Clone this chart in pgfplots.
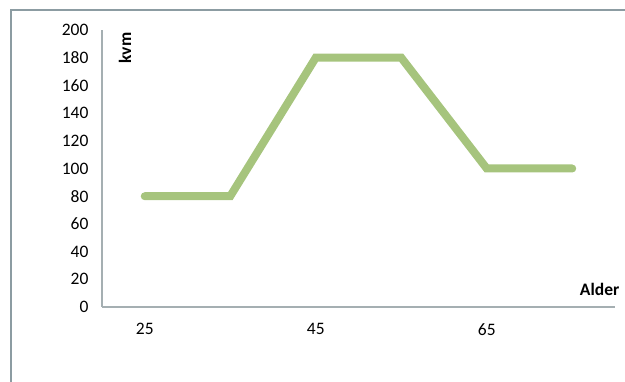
\documentclass[border=0pt]{standalone}
\usepackage{pgfplots}
\pgfplotsset{compat=1.18}
\usepackage{fontspec}
\setmainfont{Carlito}
\definecolor{lgreen}{RGB}{166,196,125}
\definecolor{axgray}{RGB}{165,175,178}
\definecolor{framec}{RGB}{140,156,162}
\begin{document}
\begin{tikzpicture}[x=1pt,y=1pt]
\path[use as bounding box] (-102,-75) rectangle (523,307);
\draw[framec,line width=1.6pt] (-91,-80) -- (-91,297) -- (530,297);
\begin{axis}[
  scale only axis, width=513pt, height=277pt,
  at={(0,0)}, anchor=south west,
  xmin=-0.5, xmax=5.5, ymin=0, ymax=200,
  axis lines*=left,
  axis line style={axgray,line width=1.2pt,-},
  xtick={0,2,4}, xticklabels={25,45,65},
  ytick={0,20,...,200},
  major tick length=0pt,
  tick label style={font=\fontsize{17.5}{19}\selectfont},
  /pgf/number format/assume math mode=true,
  yticklabel style={xshift=-10pt},
  xticklabel style={yshift=-13pt},
  clip=false,
]
\addplot[lgreen,line width=8pt,line join=miter,line cap=round] coordinates {(0,80) (1,80) (2,180) (3,180) (4,100) (5,100)};
\node[font=\bfseries\fontsize{17.5}{19}\selectfont,rotate=90,anchor=center] at (axis cs:-0.23,187) {kvm};
\node[font=\bfseries\fontsize{17.5}{19}\selectfont,anchor=center] at (axis cs:5.32,13) {Alder};
\end{axis}
\end{tikzpicture}
\end{document}
